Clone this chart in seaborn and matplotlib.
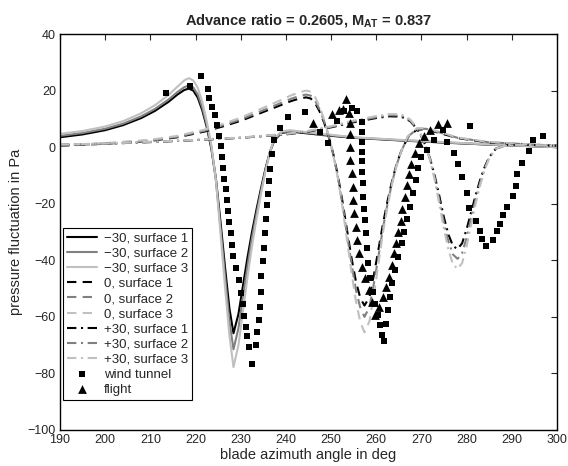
import numpy as np
import pandas as pd
import matplotlib
matplotlib.use("Agg")
import matplotlib.pyplot as plt
import seaborn as sns

# ---------------- data ----------------
sol_x = [190, 195, 200, 204, 208, 211, 214, 216, 217.5, 218.5, 219.5, 220.5, 221.5, 222.5, 223.5,
         224.5, 225.5, 226.5, 227.5, 228.4, 229.5, 230.5, 231.5, 232.5, 233.5, 234.5, 235.5, 236.5,
         237.5, 239, 241, 244, 248, 255, 265, 275, 285, 300]
sol_s1 = [3.5, 4.5, 6, 7.8, 10.3, 12.8, 16, 18.6, 20.2, 20.7, 20.0, 17.5, 13.0, 7.0, -0.5,
          -11, -26, -42, -57, -65.8, -59, -49, -39, -30, -22, -14.5, -7.5, -1.5,
          2.5, 5.0, 5.5, 5.0, 4.3, 3.3, 2.4, 1.6, 0.9, 0.0]
sol_s2 = [4.0, 5.0, 6.5, 8.3, 10.9, 13.5, 16.8, 19.5, 21.2, 21.8, 21.1, 18.6, 14.0, 7.8, 0.0,
          -11.5, -28, -45, -61.5, -71.5, -64, -53, -42, -32, -23.5, -15.5, -8, -1.5,
          2.8, 5.2, 5.7, 5.2, 4.5, 3.4, 2.5, 1.7, 0.9, 0.0]
sol_s3 = [4.7, 5.7, 7.3, 9.2, 12.0, 14.8, 18.4, 21.4, 23.6, 24.4, 23.6, 21.0, 16.0, 9.0, 0.8,
          -11.5, -30, -49, -66.5, -77.8, -70, -58, -46, -35, -25.5, -16.5, -8.5, -1.5,
          3.2, 5.6, 6.0, 5.4, 4.7, 3.5, 2.6, 1.8, 1.0, 0.0]

das_x = [190, 200, 210, 216, 222, 226, 230, 234, 238, 241, 243, 244.5, 245.5, 246.5, 247.5, 248.5,
         249.5, 250.5, 251.5, 252.5, 253.5, 254.5, 255.5, 256.5, 257.4, 258.5, 259.5, 260.5, 261.5,
         262.5, 263.5, 264.5, 265.5, 267, 269, 271, 274, 278, 285, 300]
das_s1 = [0.5, 1.2, 2.2, 3.5, 5.5, 7.3, 9.3, 11.8, 14.3, 16.2, 17.2, 17.6, 17.2, 15.5, 12.5, 8.5,
          3.5, -2.5, -10, -19, -29, -39, -47.5, -53.5, -56, -53, -45, -36, -27,
          -19, -12, -6, -1.5, 3.5, 6.2, 6.3, 5.0, 3.2, 1.6, 0.5]
das_s2 = [0.6, 1.3, 2.4, 3.7, 5.8, 7.7, 9.8, 12.4, 15.0, 17.0, 18.1, 18.6, 18.2, 16.4, 13.2, 9.0,
          3.7, -2.6, -10.5, -20, -30.5, -41, -50.5, -57, -60, -56.5, -48, -38.5, -28.5,
          -20, -12.5, -6.3, -1.6, 3.7, 6.4, 6.5, 5.2, 3.3, 1.7, 0.5]
das_s3 = [0.7, 1.4, 2.6, 4.0, 6.2, 8.2, 10.4, 13.2, 16.0, 18.2, 19.4, 20.0, 19.6, 17.6, 14.2, 9.6,
          4.0, -2.8, -11, -21, -32.5, -44, -54.5, -62, -65.5, -61.5, -52, -41, -30,
          -21, -13, -6.5, -1.6, 3.9, 6.7, 6.8, 5.4, 3.4, 1.8, 0.5]

dd_x = [190, 200, 210, 220, 230, 240, 245, 250, 255, 260, 263, 265.5, 267.5, 269, 270, 271, 272,
        273, 274, 275, 276, 277, 278, 279, 280, 281, 282, 283, 284, 285, 286.5, 289, 293, 300]
dd_s1 = [0.8, 1.2, 1.8, 2.5, 3.3, 4.5, 5.5, 7.0, 8.8, 10.3, 10.9, 10.8, 9.2, 6.5, 3.8, 0.2, -4.5,
         -10.5, -17.5, -25, -31, -35, -36, -34, -29, -23, -17, -11.5, -7, -3.5, -0.5, 0.8, 0.8, 0.5]
dd_s2 = [0.8, 1.2, 1.8, 2.5, 3.3, 4.6, 5.6, 7.2, 9.1, 10.6, 11.3, 11.2, 9.5, 6.7, 3.9, 0.2, -4.8,
         -11.3, -19, -27, -33.5, -38, -39.5, -37.5, -32, -25, -18.5, -12.5, -7.5, -3.7, -0.5, 0.8, 0.8, 0.5]
dd_s3 = [0.9, 1.3, 1.9, 2.6, 3.4, 4.7, 5.8, 7.4, 9.4, 11.0, 11.7, 11.6, 9.8, 6.9, 4.0, 0.2, -5,
         -12, -20.5, -29, -36.5, -41.5, -43, -41, -35, -27.5, -20, -13.5, -8, -4, -0.5, 0.8, 0.8, 0.5]

wt_x = [213.5, 218.8, 221.2, 222.7, 223.0, 223.6, 224.2, 224.7, 225.1, 225.6, 225.9, 226.1, 226.4,
        226.7, 226.9, 227.2, 227.5, 227.8, 228.1, 228.4, 229.0, 229.6, 230.0, 230.6, 230.8, 231.1,
        231.4, 231.8, 232.4, 233.3, 233.7, 234.0, 234.3, 234.4, 234.6, 234.9, 235.1, 235.3, 235.6,
        235.9, 236.1, 236.3, 236.5, 237.0, 237.4, 238.7, 240.4, 244.2, 247.5, 249.3, 251.4, 252.9,
        254.7, 255.8, 256.8, 256.8, 256.8, 256.8, 256.9, 256.9, 257.0, 257.1, 257.3, 257.5, 257.7,
        257.9, 258.2, 258.6, 259.2, 259.8, 260.3, 260.8, 261.3, 261.8, 262.2, 262.6, 263.0, 263.4,
        264.1, 264.9, 265.6, 266.2, 266.8, 267.5, 268.1, 268.8, 269.3, 269.8, 271.3, 272.8, 274.7,
        275.7, 277.3, 278.0, 279.0, 280.0, 280.6, 282.1, 283.0, 283.4, 284.3, 285.8, 286.8, 287.4,
        288.1, 288.9, 290.3, 290.9, 291.2, 292.2, 293.9, 294.6, 296.8, 280.8]
wt_y = [19.3, 21.7, 25.2, 20.6, 17.3, 14.2, 11.3, 8.0, 4.1, 0.5, -3.6, -7.5, -11.1,
        -14.8, -18.6, -22.5, -26.5, -30.5, -34.5, -38.5, -42.6, -47.1, -51.7, -55.6, -59.7, -63.5,
        -66.8, -70.6, -76.7, -70.1, -65.5, -61.2, -56.4, -51.1, -45.6, -40.3, -35.5, -30.5, -25.5,
        -20.5, -16.5, -12.0, -7.7, -2.5, 2.4, 6.8, 10.8, 12.4, 5.3, 1.5, 9.3, 12.8,
        14.0, 12.7, 8.9, 5.4, 1.9, -1.7, -5.0, -8.7, -12.5, -17.6, -22.0, -25.8, -30.3,
        -35.8, -41.1, -46.4, -51.1, -55.5, -59.5, -63.0, -66.5, -68.5, -62.5, -57.5, -52.9, -48.2,
        -43.5, -38.8, -34.0, -29.9, -25.3, -21.2, -16.1, -11.7, -7.3, -3.5, -1.1, 2.5, 6.0,
        1.9, -2.2, -5.8, -10.7, -16.1, -21.4, -26.1, -29.7, -32.3, -34.9, -32.9, -29.7, -27.2,
        -24.1, -21.1, -17.3, -13.7, -9.5, -5.5, -1.3, 2.5, 3.9, 7.4]

fl_x = [245.9, 250.2, 251.7, 252.7, 253.3, 253.9, 254.1, 254.1, 254.2, 254.2, 254.6, 254.8, 254.9,
        255.1, 255.5, 255.8, 256.2, 256.8, 257.5, 258.5, 259.0, 259.7, 260.6, 261.4, 262.1, 262.8,
        263.4, 263.9, 264.4, 264.9, 265.4, 265.8, 266.3, 266.8, 267.3, 267.8, 268.5, 269.5, 270.6,
        271.9, 273.7, 275.7]
fl_y = [8.6, 11.7, 13.3, 13.5, 16.9, 12.0, 8.4, 4.6, 0.1, -4.6, -9.3, -14.0, -18.7,
        -23.4, -28.2, -32.9, -37.6, -42.3, -46.4, -50.5, -54.7, -59.5, -56.5, -53.0, -49.4, -45.8,
        -41.7, -37.6, -34.0, -29.9, -26.0, -22.0, -17.6, -13.4, -9.5, -5.8, -2.1, 1.3, 3.9,
        6.2, 8.1, 8.6]

line_labels = ["\u221230, surface 1", "\u221230, surface 2", "\u221230, surface 3",
               "0, surface 1", "0, surface 2", "0, surface 3",
               "+30, surface 1", "+30, surface 2", "+30, surface 3"]
marker_labels = ["wind tunnel", "flight"]
title_text = r"Advance ratio = 0.2605, M$_{\mathbf{AT}}$ = 0.837"
x_ticks = list(range(190, 301, 10))
y_ticks = list(range(-100, 41, 20))

# ---------------- style ----------------
sns.set_style("white")
plt.rcParams["font.family"] = ["Liberation Sans", "DejaVu Sans"]
plt.rcParams["mathtext.fontset"] = "custom"
plt.rcParams["mathtext.rm"] = "Liberation Sans"
plt.rcParams["mathtext.bf"] = "Liberation Sans:bold"

fig = plt.figure(figsize=(5.68, 4.66), dpi=100)
ax = fig.add_axes([0.1056, 0.0773, 0.875, 0.8497])

colors = ["black", "#808080", "#c0c0c0"]
series = [(sol_x, [sol_s1, sol_s2, sol_s3], "-"),
          (das_x, [das_s1, das_s2, das_s3], (0, (4.5, 3))),
          (dd_x, [dd_s1, dd_s2, dd_s3], (0, (4.5, 2.2, 1, 2.2)))]
k = 0
for xs, ys_list, ls in series:
    for c, ys in zip(colors, ys_list):
        df = pd.DataFrame({"az": xs, "p": ys})
        sns.lineplot(data=df, x="az", y="p", ax=ax, color=c, linestyle=ls, lw=1.5,
                     sort=False, estimator=None, label=line_labels[k])
        k += 1

wt = pd.DataFrame({"az": wt_x, "p": wt_y})
fl = pd.DataFrame({"az": fl_x, "p": fl_y})
sns.scatterplot(data=wt, x="az", y="p", ax=ax, marker="s", s=16, color="black",
                edgecolor="black", linewidth=0, label=marker_labels[0], zorder=5)
sns.scatterplot(data=fl, x="az", y="p", ax=ax, marker="^", s=40, color="black",
                edgecolor="black", linewidth=0, label=marker_labels[1], zorder=5)

ax.set_xlim(190, 300)
ax.set_ylim(-100, 40)
ax.set_xticks(x_ticks)
ax.set_yticks(y_ticks)
ax.tick_params(direction="in", top=True, right=True, length=4, labelsize=9, width=0.8, pad=3)
for sp in ax.spines.values():
    sp.set_linewidth(1.0)
    sp.set_color("black")
ax.set_xlabel("blade azimuth angle in deg", fontsize=10.5, labelpad=1)
ax.set_ylabel("pressure fluctuation in Pa", fontsize=10.5, labelpad=3)
ax.set_title(title_text, fontsize=10.5, fontweight="bold", pad=6)

leg = ax.legend(loc="lower left", bbox_to_anchor=(0.006, 0.076), fontsize=9.5, frameon=True,
                fancybox=False, edgecolor="black", framealpha=1, handlelength=2.3,
                handletextpad=0.5, labelspacing=0.22, borderpad=0.3, borderaxespad=0)
leg.get_frame().set_linewidth(0.8)

fig.savefig("out.png", dpi=100)
